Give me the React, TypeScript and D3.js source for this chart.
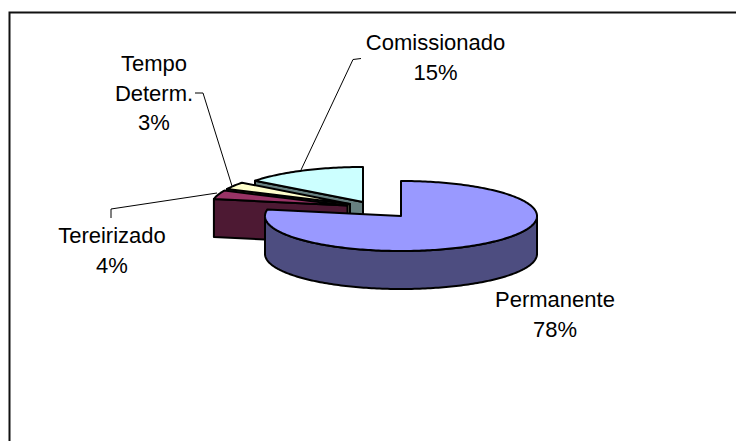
import React from "react";
import * as d3 from "d3";

const categories = ["Permanente", "Tereirizado", "Tempo Determ.", "Comissionado"];
const shares = [78, 4, 3.4, 14.6];
const topColors = ["#9999FF", "#993366", "#FFFFCC", "#CCFFFF"];
const wallColors = ["#4D4D80", "#4D1933", "#808066", "#668080"];
const centerX = [401, 347.5, 350, 363];
const centerY = [216, 205.5, 204, 202];
const labelLines = [["Permanente", "78%"], ["Tereirizado", "4%"], ["Tempo", "Determ.", "3%"], ["Comissionado", "15%"]];
const labelX = [555, 112, 154, 435.5];
const labelBase = [307, 243, 71, 50];
const leaderLines: [number, number][][] = [
  [],
  [[111, 218], [111, 209], [217, 193]],
  [[195, 93], [203, 93], [232, 186]],
  [[361, 58.5], [353, 59.5], [301, 170]],
];

const RX = 136;
const RY = 35;
const DEPTH = 38;
const drawOrder = [3, 2, 1, 0];

const pie = d3.pie<number>().sort(null).startAngle(0).endAngle(2 * Math.PI);
const arcs = pie(shares);
const path = d3.line<[number, number]>().x(d => d[0]).y(d => d[1]);

function rim(i: number, a0: number, a1: number, dy = 0): [number, number][] {
  const n = Math.max(2, Math.ceil(Math.abs(a1 - a0) / 0.02));
  return d3.range(n + 1).map(k => {
    const a = a0 + ((a1 - a0) * k) / n;
    return [centerX[i] + RX * Math.sin(a), centerY[i] - RY * Math.cos(a) + dy] as [number, number];
  });
}

function Slice({ i }: { i: number }) {
  const { startAngle: s, endAngle: e } = arcs[i];
  const c: [number, number] = [centerX[i], centerY[i]];
  const top = [c, ...rim(i, s, e)];
  const walls: React.ReactNode[] = [];
  // radial wall on the start edge, seen when the edge faces the viewer
  if (s > Math.PI / 2) {
    const [p] = rim(i, s, s);
    const pts: [number, number][] = [c, p, [p[0], p[1] + DEPTH], [c[0], c[1] + DEPTH]];
    walls.push(<path key="r" d={path(pts)! + "Z"} fill={wallColors[i]} stroke="#000" strokeWidth={2} strokeLinejoin="round" />);
  }
  // outer rim wall on the front half
  const a0 = Math.max(s, Math.PI / 2);
  const a1 = Math.min(e, 1.5 * Math.PI);
  if (a1 > a0) {
    const pts = [...rim(i, a0, a1), ...rim(i, a1, a0, DEPTH)];
    walls.push(<path key="o" d={path(pts)! + "Z"} fill={wallColors[i]} stroke="#000" strokeWidth={2} strokeLinejoin="round" />);
  }
  return (
    <g aria-label={categories[i]}>
      {walls}
      <path d={path(top)! + "Z"} fill={topColors[i]} stroke="#000" strokeWidth={2} strokeLinejoin="round" />
    </g>
  );
}

export default function App() {
  return (
    <svg width={736} height={441} style={{ position: "absolute", left: 0, top: 0, background: "#fff" }}>
      <path d="M9.5 441V12.5H736" fill="none" stroke="#111" strokeWidth={2} />
      {drawOrder.map(i => <Slice key={i} i={i} />)}
      {leaderLines.map((l, i) =>
        l.length ? <path key={i} d={path(l)!} fill="none" stroke="#000" strokeWidth={1} /> : null
      )}
      {labelLines.map((lines, i) => (
        <text key={i} textAnchor="middle" fontFamily="'Liberation Sans', Arial, sans-serif" fontSize={22} fill="#000">
          {lines.map((t, k) => (
            <tspan key={k} x={labelX[i]} y={labelBase[i] + k * 29.5}>{t}</tspan>
          ))}
        </text>
      ))}
    </svg>
  );
}
